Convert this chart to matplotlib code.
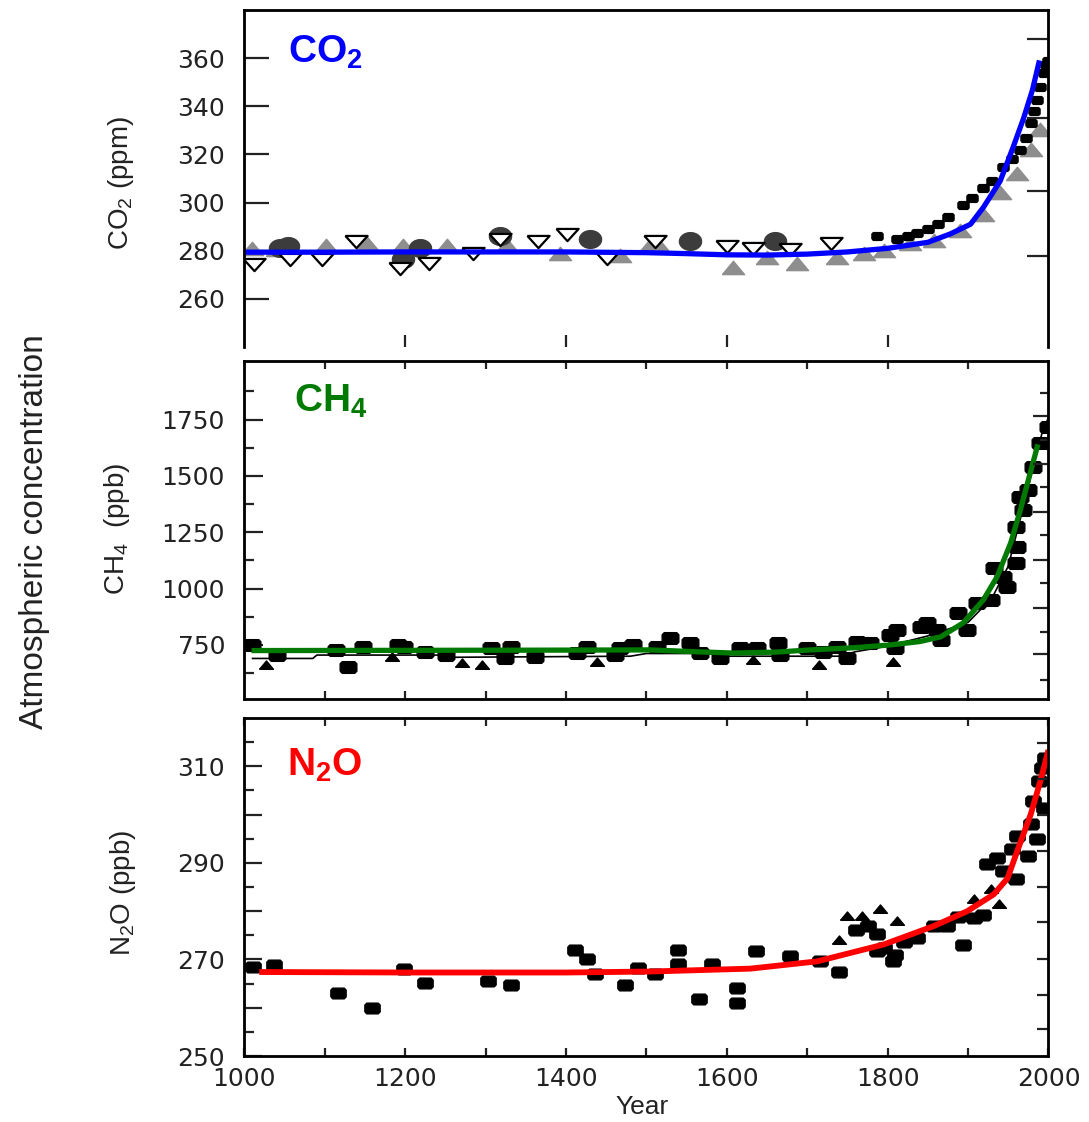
import matplotlib.pyplot as plt
import numpy as np

plt.rcParams['font.family'] = ['Liberation Sans', 'DejaVu Sans']
plt.rcParams['mathtext.default'] = 'regular'

# ---- CO2 (ppm) ----
co2_gray_year = [1009, 1040, 1102, 1152, 1197, 1252, 1326, 1392, 1467, 1504, 1513, 1608, 1650, 1687,
                 1737, 1770, 1795, 1828, 1857, 1890, 1919, 1940, 1961, 1978, 1990]
co2_gray_val = [280.8, 280.5, 282, 283, 282, 282, 282, 278.8, 278, 282, 283, 273, 277, 274.6,
                277, 278.8, 280, 283, 284, 288, 295, 303.8, 312, 321.7, 330]
co2_dark_year = [1044, 1054, 1197, 1218, 1318, 1430, 1554, 1660]
co2_dark_val = [281, 282, 276.7, 281, 286, 285, 284, 284]
co2_open_year = [1012, 1056, 1097, 1139, 1193, 1230, 1284, 1318, 1365, 1401, 1451, 1510,
                 1600, 1633, 1679, 1729]
co2_open_val = [274.6, 276.7, 276.7, 284, 273, 275, 279, 285, 284, 287, 277, 284,
                282, 281, 280.8, 283.3]
co2_black_year = [1787, 1812, 1825, 1837, 1850, 1862, 1875, 1894, 1905, 1919, 1930, 1944, 1955,
                  1965, 1972, 1978, 1982, 1986, 1990, 1994, 1997, 1999]
co2_black_val = [286, 285, 286, 287.5, 289, 291, 294, 298.8, 302, 306, 309, 314.6, 318,
                 321.7, 327, 333, 338, 342.5, 348, 353.8, 357, 359]
co2_fit_year = [1000, 1100, 1200, 1300, 1400, 1500, 1550, 1600, 1650, 1700, 1750, 1800, 1850,
                1878, 1903, 1919, 1940, 1956, 1969, 1980, 1988]
co2_fit_val = [279.4, 279.4, 279.5, 279.5, 279.5, 279.2, 278.8, 278.3, 278.2, 278.6, 279.5, 281,
               283.5, 287, 291, 298, 309, 323, 335, 346.7, 358]
co2_right_ticks = [278, 305, 335, 368]

# ---- CH4 (ppb) ----
ch4_rect_year = [1009, 1040, 1114, 1129, 1147, 1191, 1199, 1224, 1251, 1307,
                 1332, 1324, 1361, 1413, 1426, 1461, 1467, 1483, 1513, 1529,
                 1554, 1567, 1592, 1616, 1638, 1664, 1666, 1700, 1720, 1737,
                 1750, 1762, 1778, 1803, 1812, 1809, 1841, 1849, 1861, 1866,
                 1887, 1899, 1911, 1928, 1932, 1944, 1949, 1959, 1961, 1959,
                 1965, 1968, 1974, 1981, 1990, 1999]
ch4_rect_val = [750, 705, 727, 651, 741, 750, 741, 718, 705, 736,
                741, 691, 696, 714, 741, 705, 736, 750, 741, 781,
                759, 714, 692, 737, 737, 759, 706, 737, 719, 741,
                692, 763, 759, 794, 817, 737, 830, 848, 817, 772,
                892, 817, 936, 950, 1092, 1052, 1008, 1114, 1185, 1274,
                1407, 1349, 1438, 1540, 1647, 1718]
ch4_tri_year = [1027, 1184, 1270, 1296, 1438, 1633, 1714, 1807]
ch4_tri_val = [660, 696, 669, 660, 673, 683, 661, 675]
ch4_line_year = [1010, 1085, 1090, 1240, 1250, 1480, 1500, 1580, 1600, 1740, 1760, 1800,
                 1850, 1900, 1930, 1950, 1970, 1985, 1992, 2000]
ch4_line_val = [690, 690, 705, 705, 695, 700, 712, 712, 700, 700, 720, 745,
                790, 850, 960, 1100, 1380, 1600, 1690, 1760]
ch4_fit_year = [1012, 1200, 1400, 1504, 1560, 1608, 1660, 1704, 1760, 1803, 1840, 1866,
                1894, 1919, 1936, 1953, 1965, 1975, 1986]
ch4_fit_val = [725, 726, 727, 728, 720, 714, 718, 728, 738, 750, 765, 786,
               848, 950, 1052, 1203, 1349, 1483, 1629]
ch4_right_long = [1767, 1554, 1341, 1127, 914, 710]
ch4_right_short = [1869, 1660, 1452, 1238, 1025, 808, 595]

# ---- N2O (ppb) ----
n2o_rect_year = [1010, 1037, 1116, 1158, 1199, 1224, 1303, 1332, 1411, 1426,
                 1436, 1473, 1489, 1510, 1539, 1539, 1581, 1565, 1613, 1613,
                 1636, 1678, 1716, 1739, 1760, 1776, 1787, 1795, 1809, 1807,
                 1787, 1820, 1837, 1857, 1874, 1894, 1887, 1907, 1919, 1924,
                 1936, 1944, 1955, 1961, 1959, 1974, 1978, 1981, 1988, 1992,
                 1996, 1994, 1986]
n2o_rect_val = [268.5, 268.8, 263, 260, 268, 265.2, 265.6, 264.8, 272, 270.2,
                266.9, 264.8, 268.3, 267, 272, 269, 269, 261.9, 264, 260.9,
                271.7, 270.8, 269.6, 267.5, 276.2, 276.9, 275.2, 272.3, 271, 269.6,
                271.7, 273.7, 274.4, 276.9, 276.9, 272.9, 278.9, 278.5, 279.3, 289.7,
                291, 288.3, 292.8, 295.5, 286.6, 291.4, 298, 302.8, 307, 309.7,
                311.7, 301.4, 295]
n2o_tri_year = [1739, 1750, 1768, 1791, 1812, 1907, 1928, 1938]
n2o_tri_val = [274, 279, 279, 280.4, 277.9, 282.5, 284.7, 281.4]
n2o_fit_year = [1022, 1200, 1400, 1504, 1629, 1712, 1795, 1857, 1899, 1932, 1949, 1961,
                1978, 1990, 1999]
n2o_fit_val = [267.4, 267.3, 267.3, 267.5, 268.1, 269.6, 273.1, 276.9, 280, 283.5, 286.8,
               292.4, 300.1, 307, 312.8]
n2o_right_ticks = [314.9, 307.4, 299.9, 292.4, 285, 277.7, 270.2, 262.7, 255.5]

# marker shapes (wide, like the stretched original)
rect_mk = [(-1, -0.45), (-0.75, -0.7), (0.75, -0.7), (1, -0.45), (1, 0.45),
           (0.75, 0.7), (-0.75, 0.7), (-1, 0.45), (-1, -0.45)]
tri_up = [(-1, -0.55), (1, -0.55), (0, 0.65), (-1, -0.55)]
tri_down = [(-1, 0.5), (1, 0.5), (0, -0.6), (-1, 0.5)]
oval_mk = [(np.cos(t) * 1.0, np.sin(t) * 0.8) for t in np.linspace(0, 2 * np.pi, 25)]

ink = '#222222'
fig = plt.figure(figsize=(10.89, 11.22), dpi=100)
left, width = 0.2245, 0.7383
ax1 = fig.add_axes([left, 0.6907, width, 0.3004])
ax2 = fig.add_axes([left, 0.3770, width, 0.3012])
ax3 = fig.add_axes([left, 0.0588, width, 0.3012])

for ax in (ax1, ax2, ax3):
    ax.set_xlim(1000, 2000)
    for s in ax.spines.values():
        s.set_linewidth(1.8)
        s.set_color(ink)
    ax.tick_params(direction='in', colors=ink, width=1.6, labelsize=18, pad=14)

# top panel
ax1.plot(co2_gray_year, co2_gray_val, ls='none', marker=tri_up, ms=16, color='#8e8e8e', zorder=2)
ax1.plot(co2_dark_year, co2_dark_val, ls='none', marker=oval_mk, ms=16, color='#3c3c3c', zorder=3)
ax1.plot(co2_open_year, co2_open_val, ls='none', marker=tri_down, ms=16, mfc='white', mec='black',
         mew=1.6, zorder=3)
ax1.plot(co2_black_year, co2_black_val, ls='none', marker=rect_mk, ms=8, color='black', zorder=4)
ax1.plot(co2_fit_year, co2_fit_val, color='#0000ff', lw=3.8, zorder=5)
ax1.set_ylim(240, 380)
ax1.set_yticks(np.arange(260, 361, 20))
ax1.set_xticks([1200, 1400, 1600, 1800])
ax1.tick_params(axis='y', length=18)
ax1.tick_params(axis='x', length=9, labelbottom=False)
ax1.spines['bottom'].set_visible(False)
ax1r = ax1.twinx()
ax1r.set_ylim(240, 380)
ax1r.set_yticks(co2_right_ticks)
ax1r.tick_params(direction='in', length=15, width=1.6, colors=ink, labelright=False)
ax1r.spines['bottom'].set_visible(False)
for s in ax1r.spines.values():
    s.set_linewidth(1.8)
ax1.text(0.054, 0.93, 'CO$_2$', transform=ax1.transAxes, color='#0000ff', fontsize=28,
         fontweight='bold', va='top', ha='left')

# middle panel
ax2.plot(ch4_line_year, ch4_line_val, color='black', lw=1.2, zorder=2)
ax2.plot(ch4_rect_year, ch4_rect_val, ls='none', marker=rect_mk, ms=12, color='black', zorder=3)
ax2.plot(ch4_tri_year, ch4_tri_val, ls='none', marker=tri_up, ms=10, color='black', zorder=3)
ax2.plot(ch4_fit_year, ch4_fit_val, color='#007a00', lw=3.8, zorder=5)
ax2.set_ylim(510, 2010)
ax2.set_yticks([750, 1000, 1250, 1500, 1750])
ax2.set_yticks(np.arange(625, 2000, 250), minor=True)
ax2.set_xticks(np.arange(1100, 2000, 100))
ax2.tick_params(axis='y', which='major', length=14)
ax2.tick_params(axis='y', which='minor', direction='in', length=7, width=1.6, color=ink)
ax2.tick_params(axis='x', length=6, top=True, labelbottom=False)
ax2r = ax2.twinx()
ax2r.set_ylim(510, 2010)
ax2r.set_yticks(ch4_right_long)
ax2r.set_yticks(ch4_right_short, minor=True)
ax2r.tick_params(which='major', direction='in', length=11, width=1.6, colors=ink, labelright=False)
ax2r.tick_params(which='minor', direction='in', length=6, width=1.6, colors=ink, labelright=False)
for s in ax2r.spines.values():
    s.set_linewidth(1.8)
ax2.text(0.062, 0.935, 'CH$_4$', transform=ax2.transAxes, color='#007a00', fontsize=28,
         fontweight='bold', va='top', ha='left')

# bottom panel
ax3.plot(n2o_rect_year, n2o_rect_val, ls='none', marker=rect_mk, ms=11, color='black', zorder=3)
ax3.plot(n2o_tri_year, n2o_tri_val, ls='none', marker=tri_up, ms=10, color='black', zorder=3)
ax3.plot(n2o_fit_year, n2o_fit_val, color='#ff0000', lw=4.2, zorder=5)
ax3.set_ylim(250, 320)
ax3.set_yticks(np.arange(250, 320, 10))
ax3.set_yticklabels(['250', '', '270', '', '290', '', '310'])
ax3.set_yticks(np.arange(255, 320, 10), minor=True)
ax3.set_xticks(np.arange(1000, 2001, 200))
ax3.set_xticks(np.arange(1100, 2000, 200), minor=True)
ax3.tick_params(axis='y', which='major', length=13)
ax3.tick_params(axis='y', which='minor', direction='in', length=7, width=1.6, color=ink)
ax3.tick_params(axis='x', which='both', direction='in', length=6, width=1.6, top=True, color=ink)
ax3.tick_params(axis='x', which='major', pad=8)
ax3r = ax3.twinx()
ax3r.set_ylim(250, 320)
ax3r.set_yticks(n2o_right_ticks)
ax3r.tick_params(direction='in', length=8, width=1.6, colors=ink, labelright=False)
for s in ax3r.spines.values():
    s.set_linewidth(1.8)
ax3.text(0.053, 0.915, 'N$_2$O', transform=ax3.transAxes, color='#ff0000', fontsize=28,
         fontweight='bold', va='top', ha='left')

for ax in (ax1, ax2, ax3):
    for lbl in ax.get_xticklabels() + ax.get_yticklabels():
        lbl.set_family('DejaVu Sans')

# axis labels
fig.text(0.111, 0.837, 'CO$_2$ (ppm)', rotation=90, ha='center', va='center', fontsize=20, color=ink)
fig.text(0.1075, 0.5285, 'CH$_4$  (ppb)', rotation=90, ha='center', va='center', fontsize=20, color=ink)
fig.text(0.113, 0.204, 'N$_2$O (ppb)', rotation=90, ha='center', va='center', fontsize=20, color=ink)
fig.text(0.032, 0.526, 'Atmospheric concentration', rotation=90, ha='center', va='center',
         fontsize=24, color=ink)
fig.text(0.59, 0.0135, 'Year', ha='center', va='center', fontsize=19, color=ink)

fig.savefig('out.png', dpi=100)
